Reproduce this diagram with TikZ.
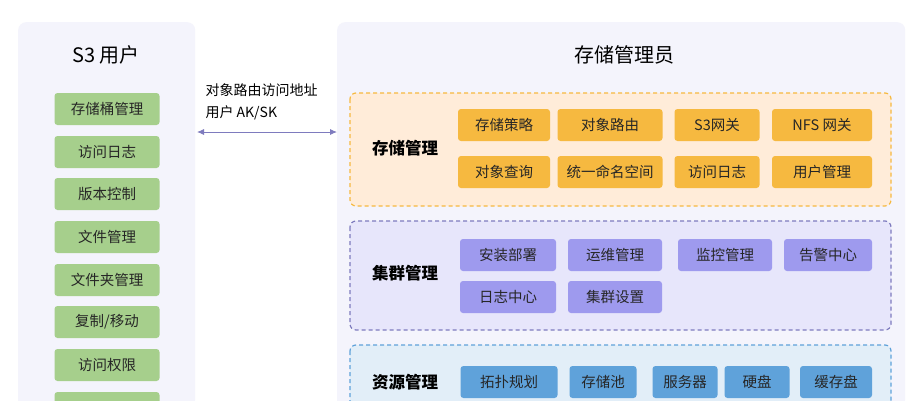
\documentclass[tikz,border=0pt]{standalone}
\usepackage{fontspec}
\setmainfont{Noto Sans CJK SC}
\usetikzlibrary{arrows.meta}
\definecolor{itemgreen}{HTML}{A6CF8C}
\definecolor{itemorange}{HTML}{F6B940}
\definecolor{itempurple}{HTML}{9E9AEE}
\definecolor{itemblue}{HTML}{5FA2DA}
\definecolor{panelbg}{HTML}{F4F4FC}
\tikzset{
  panel/.style={fill=panelbg, draw=none, rounded corners=8pt},
  item/.style={rounded corners=3pt, minimum height=32pt, font=\fontsize{14.5}{16}\selectfont, text=black!85, inner sep=0pt},
  group/.style={rounded corners=6pt, dashed, line width=1.2pt, dash pattern=on 4pt off 3pt},
  grouplabel/.style={font=\fontsize{16.5}{18}\selectfont\bfseries}
}
\begin{document}
\begin{tikzpicture}[x=1pt,y=-1pt]
\useasboundingbox (0,0) rectangle (922,400);
\fill[white] (0,0) rectangle (922,400);
% panels
\node[panel, minimum width=177pt, minimum height=400pt, anchor=north west] (user) at (18,22) {};
\node[panel, minimum width=568pt, minimum height=400pt, anchor=north west] (admin) at (337,22) {};
\node[font=\fontsize{20}{22}\selectfont] (usertitle) at (106,55) {S3 用户};
\node[font=\fontsize{20}{22}\selectfont] (admintitle) at (624,55) {存储管理员};
% user items
\foreach \name/\txt/\y in {bucket/存储桶管理/109, log/访问日志/152, version/版本控制/194, file/文件管理/237, folder/文件夹管理/280, copy/{复制/移动}/322, perm/访问权限/365, more//408}
  \node[item, fill=itemgreen, minimum width=105pt] (\name) at (107,\y) {\txt};
% link
\coordinate (linkL) at (197,132);
\coordinate (linkR) at (337,132);
\draw[{Latex[length=7pt,width=6pt]}-{Latex[length=7pt,width=6pt]}, color=itempurple!80!black, line width=0.9pt] (linkL) -- (linkR);
\node[anchor=west, align=left, font=\fontsize{14}{22}\selectfont] (linklabel) at (202,102) {对象路由访问地址\\用户 AK/SK};
% storage
\draw[group, fill=orange!15, draw=itemorange] (350,93) rectangle (891,206);
\node[grouplabel] (storage) at (405,148) {存储管理};
\foreach \name/\txt/\x/\w/\y in {s1/存储策略/504/92/125, s2/对象路由/610/105/125, s3/S3网关/717/85/125, s4/NFS 网关/822/100/125,
  s5/对象查询/504/92/172, s6/统一命名空间/610/105/172, s7/访问日志/717/85/172, s8/用户管理/822/100/172}
  \node[item, fill=itemorange, minimum width=\w pt] (\name) at (\x,\y) {\txt};
% cluster
\draw[group, fill=itempurple!25, draw=itempurple!80!black] (350,221) rectangle (891,330);
\node[grouplabel] (cluster) at (405,273) {集群管理};
\foreach \name/\txt/\x/\w/\y in {c1/安装部署/508/96/255, c2/运维管理/615/94/255, c3/监控管理/725/94/255, c4/告警中心/828/88/255,
  c5/日志中心/508/96/297, c6/集群设置/615/94/297}
  \node[item, fill=itempurple, minimum width=\w pt] (\name) at (\x,\y) {\txt};
% resource
\draw[group, fill=itemblue!18, draw=itemblue] (350,345) rectangle (891,430);
\node[grouplabel] (resource) at (405,382) {资源管理};
\foreach \name/\txt/\x/\w in {r1/拓扑规划/509/97, r2/存储池/603/67, r3/服务器/685/65, r4/硬盘/757/65, r5/缓存盘/836/72}
  \node[item, fill=itemblue, minimum width=\w pt] (\name) at (\x,382) {\txt};
\end{tikzpicture}
\end{document}
